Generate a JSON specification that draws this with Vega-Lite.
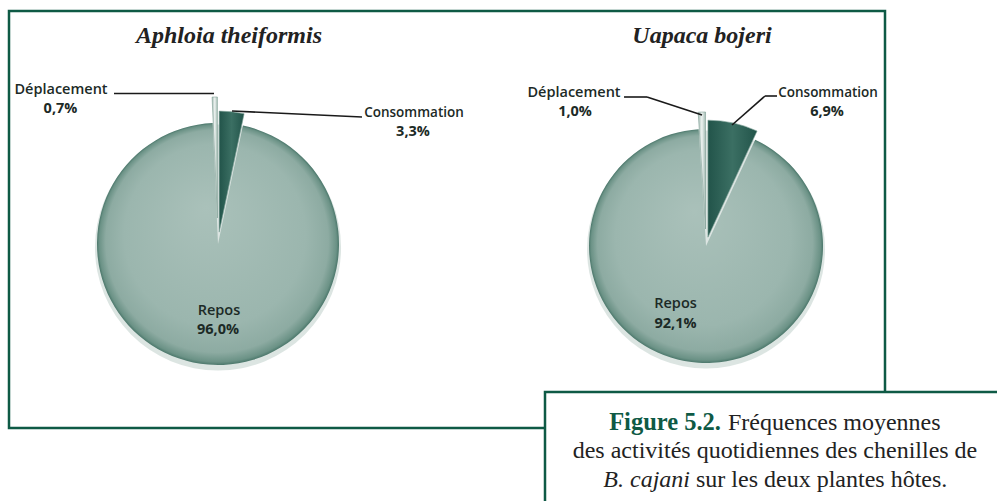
{
  "$schema": "https://vega.github.io/schema/vega-lite/v6.json",
  "width": 876,
  "height": 417,
  "autosize": {"type": "none"},
  "padding": {"left": 9, "top": 11, "right": 112, "bottom": 73},
  "background": "white",
  "config": {
    "view": {"stroke": "#0e5a45", "strokeWidth": 2.5},
    "locale": {"number": {"decimal": ",", "thousands": " ", "grouping": [3], "currency": ["", " €"]}}
  },
  "data": {"values": [
    {"plant": "Aphloia theiformis", "activity": "Consommation", "pct": 0.033},
    {"plant": "Aphloia theiformis", "activity": "Repos", "pct": 0.960},
    {"plant": "Aphloia theiformis", "activity": "Déplacement", "pct": 0.007},
    {"plant": "Uapaca bojeri", "activity": "Consommation", "pct": 0.069},
    {"plant": "Uapaca bojeri", "activity": "Repos", "pct": 0.921},
    {"plant": "Uapaca bojeri", "activity": "Déplacement", "pct": 0.010}
  ]},
  "transform": [{"stack": "pct", "groupby": ["plant"], "as": ["start", "end"]}],
  "encoding": {
    "x": {"field": "plant", "type": "nominal", "axis": null,
          "scale": {"type": "point", "domain": ["Aphloia theiformis", "Uapaca bojeri"], "padding": 0.3975, "align": 0.5387}}
  },
  "layer": [
    {"transform": [{"filter": "datum.plant=='Aphloia theiformis' && datum.activity=='Repos'"}],
     "mark": {"type": "arc", "radius": 123, "theta": 0, "theta2": 6.2832, "yOffset": 28, "color": "#d3dfdb", "opacity": 0.8}},
    {"transform": [{"filter": "datum.plant=='Uapaca bojeri' && datum.activity=='Repos'"}],
     "mark": {"type": "arc", "radius": 119, "theta": 0, "theta2": 6.2832, "yOffset": 30, "color": "#d3dfdb", "opacity": 0.8}},

    {"transform": [{"filter": "datum.plant=='Aphloia theiformis' && datum.activity=='Repos'"}],
     "mark": {"type": "arc", "radius": 121, "yOffset": 24.5,
              "color": {"gradient": "radial", "x1": 0.45, "y1": 0.35, "x2": 0.5, "y2": 0.5, "r1": 0, "r2": 0.5,
                        "stops": [{"offset": 0, "color": "#aac1ba"}, {"offset": 0.75, "color": "#9bb6ae"}, {"offset": 0.92, "color": "#8daba2"}, {"offset": 0.98, "color": "#6b9286"}, {"offset": 1, "color": "#4b776b"}]}},
     "encoding": {"theta": {"field": "start", "type": "quantitative", "scale": {"domain": [0, 1]}}, "theta2": {"field": "end"}}},
    {"transform": [{"filter": "datum.plant=='Aphloia theiformis' && datum.activity=='Consommation'"}],
     "mark": {"type": "arc", "radius": 121, "yOffset": 12.6, "xOffset": 1.2, "stroke": "#7fa398", "strokeWidth": 0.6,
              "color": {"gradient": "linear", "x1": 0, "y1": 0, "x2": 1, "y2": 0,
                        "stops": [{"offset": 0, "color": "#22544a"}, {"offset": 0.5, "color": "#3b6f63"}, {"offset": 1, "color": "#22544a"}]}},
     "encoding": {"theta": {"field": "start", "type": "quantitative"}, "theta2": {"field": "end"}}},
    {"transform": [{"filter": "datum.plant=='Aphloia theiformis' && datum.activity=='Déplacement'"}],
     "mark": {"type": "arc", "radius": 121, "yOffset": -1.5, "xOffset": -0.6, "stroke": "#7e9e94", "strokeWidth": 0.6,
              "color": {"gradient": "linear", "x1": 0, "y1": 0, "x2": 1, "y2": 0,
                        "stops": [{"offset": 0, "color": "#a3bbb3"}, {"offset": 0.5, "color": "#eef3f1"}, {"offset": 1, "color": "#a3bbb3"}]}},
     "encoding": {"theta": {"field": "start", "type": "quantitative"}, "theta2": {"field": "end"}}},

    {"transform": [{"filter": "datum.plant=='Uapaca bojeri' && datum.activity=='Repos'"}],
     "mark": {"type": "arc", "radius": 117, "yOffset": 26.5,
              "color": {"gradient": "radial", "x1": 0.45, "y1": 0.35, "x2": 0.5, "y2": 0.5, "r1": 0, "r2": 0.5,
                        "stops": [{"offset": 0, "color": "#aac1ba"}, {"offset": 0.75, "color": "#9bb6ae"}, {"offset": 0.92, "color": "#8daba2"}, {"offset": 0.98, "color": "#6b9286"}, {"offset": 1, "color": "#4b776b"}]}},
     "encoding": {"theta": {"field": "start", "type": "quantitative"}, "theta2": {"field": "end"}}},
    {"transform": [{"filter": "datum.plant=='Uapaca bojeri' && datum.activity=='Consommation'"}],
     "mark": {"type": "arc", "radius": 117, "yOffset": 17.7, "xOffset": 1.9, "stroke": "#7fa398", "strokeWidth": 0.6,
              "color": {"gradient": "linear", "x1": 0, "y1": 0, "x2": 1, "y2": 0,
                        "stops": [{"offset": 0, "color": "#22544a"}, {"offset": 0.5, "color": "#3b6f63"}, {"offset": 1, "color": "#22544a"}]}},
     "encoding": {"theta": {"field": "start", "type": "quantitative"}, "theta2": {"field": "end"}}},
    {"transform": [{"filter": "datum.plant=='Uapaca bojeri' && datum.activity=='Déplacement'"}],
     "mark": {"type": "arc", "radius": 117, "yOffset": 9.5, "xOffset": -0.5, "stroke": "#7e9e94", "strokeWidth": 0.6,
              "color": {"gradient": "linear", "x1": 0, "y1": 0, "x2": 1, "y2": 0,
                        "stops": [{"offset": 0, "color": "#a3bbb3"}, {"offset": 0.5, "color": "#eef3f1"}, {"offset": 1, "color": "#a3bbb3"}]}},
     "encoding": {"theta": {"field": "start", "type": "quantitative"}, "theta2": {"field": "end"}}},

    {"transform": [{"filter": "datum.plant=='Aphloia theiformis' && datum.activity=='Déplacement'"}],
     "mark": {"type": "rule", "color": "#1a1a1a", "strokeWidth": 1.6, "xOffset": -104, "x2Offset": -4},
     "encoding": {"x2": {"field": "plant"}, "y": {"value": 82.5}, "y2": {"value": 82.5}}},
    {"transform": [{"filter": "datum.plant=='Aphloia theiformis' && datum.activity=='Consommation'"}],
     "mark": {"type": "rule", "color": "#1a1a1a", "strokeWidth": 1.6, "xOffset": 14, "x2Offset": 144},
     "encoding": {"x2": {"field": "plant"}, "y": {"value": 100}, "y2": {"value": 106}}},
    {"transform": [{"filter": "datum.plant=='Uapaca bojeri' && datum.activity=='Déplacement'"}],
     "mark": {"type": "rule", "color": "#1a1a1a", "strokeWidth": 1.6, "xOffset": -82, "x2Offset": -59},
     "encoding": {"x2": {"field": "plant"}, "y": {"value": 86}, "y2": {"value": 86}}},
    {"transform": [{"filter": "datum.plant=='Uapaca bojeri' && datum.activity=='Déplacement'"}],
     "mark": {"type": "rule", "color": "#1a1a1a", "strokeWidth": 1.6, "xOffset": -59, "x2Offset": -4},
     "encoding": {"x2": {"field": "plant"}, "y": {"value": 86}, "y2": {"value": 104}}},
    {"transform": [{"filter": "datum.plant=='Uapaca bojeri' && datum.activity=='Consommation'"}],
     "mark": {"type": "rule", "color": "#1a1a1a", "strokeWidth": 1.6, "xOffset": 71, "x2Offset": 59},
     "encoding": {"x2": {"field": "plant"}, "y": {"value": 85}, "y2": {"value": 85}}},
    {"transform": [{"filter": "datum.plant=='Uapaca bojeri' && datum.activity=='Consommation'"}],
     "mark": {"type": "rule", "color": "#1a1a1a", "strokeWidth": 1.6, "xOffset": 59, "x2Offset": 26},
     "encoding": {"x2": {"field": "plant"}, "y": {"value": 85}, "y2": {"value": 114}}},

    {"transform": [{"filter": "datum.plant=='Aphloia theiformis' && datum.activity=='Repos'"}],
     "mark": {"type": "text", "font": "Liberation Serif", "fontSize": 24, "fontWeight": "bold", "fontStyle": "italic", "color": "#222222", "baseline": "alphabetic", "dx": 11, "dy": -176.5},
     "encoding": {"text": {"field": "plant"}}},
    {"transform": [{"filter": "datum.plant=='Uapaca bojeri' && datum.activity=='Repos'"}],
     "mark": {"type": "text", "font": "Liberation Serif", "fontSize": 24, "fontWeight": "bold", "fontStyle": "italic", "color": "#222222", "baseline": "alphabetic", "dx": -4, "dy": -176.5},
     "encoding": {"text": {"field": "plant"}}},

    {"transform": [{"filter": "datum.plant=='Aphloia theiformis' && datum.activity=='Déplacement'"}],
     "mark": {"type": "text", "font": "Open Sans", "fontSize": 14.5, "fontWeight": 600, "color": "#1c2a26", "dx": -157, "dy": -129.5},
     "encoding": {"text": {"field": "activity"}}},
    {"transform": [{"filter": "datum.plant=='Aphloia theiformis' && datum.activity=='Déplacement'"}],
     "mark": {"type": "text", "font": "Open Sans", "fontSize": 14.5, "fontWeight": "bold", "color": "#1c2a26", "dx": -157.5, "dy": -111},
     "encoding": {"text": {"field": "pct", "format": ".1%"}}},
    {"transform": [{"filter": "datum.plant=='Aphloia theiformis' && datum.activity=='Consommation'"}],
     "mark": {"type": "text", "font": "Open Sans", "fontSize": 13.5, "fontWeight": 600, "color": "#1c2a26", "dx": 196, "dy": -106.5},
     "encoding": {"text": {"field": "activity"}}},
    {"transform": [{"filter": "datum.plant=='Aphloia theiformis' && datum.activity=='Consommation'"}],
     "mark": {"type": "text", "font": "Open Sans", "fontSize": 14.5, "fontWeight": "bold", "color": "#1c2a26", "dx": 195, "dy": -87.5},
     "encoding": {"text": {"field": "pct", "format": ".1%"}}},
    {"transform": [{"filter": "datum.plant=='Aphloia theiformis' && datum.activity=='Repos'"}],
     "mark": {"type": "text", "font": "Open Sans", "fontSize": 14.5, "fontWeight": 600, "color": "#1c2a26", "dx": 1, "dy": 91.5},
     "encoding": {"text": {"field": "activity"}}},
    {"transform": [{"filter": "datum.plant=='Aphloia theiformis' && datum.activity=='Repos'"}],
     "mark": {"type": "text", "font": "Open Sans", "fontSize": 14.5, "fontWeight": "bold", "color": "#1c2a26", "dx": 0, "dy": 110.5},
     "encoding": {"text": {"field": "pct", "format": ".1%"}}},

    {"transform": [{"filter": "datum.plant=='Uapaca bojeri' && datum.activity=='Déplacement'"}],
     "mark": {"type": "text", "font": "Open Sans", "fontSize": 14.5, "fontWeight": 600, "color": "#1c2a26", "dx": -132, "dy": -126.5},
     "encoding": {"text": {"field": "activity"}}},
    {"transform": [{"filter": "datum.plant=='Uapaca bojeri' && datum.activity=='Déplacement'"}],
     "mark": {"type": "text", "font": "Open Sans", "fontSize": 14.5, "fontWeight": "bold", "color": "#1c2a26", "dx": -131, "dy": -107.5},
     "encoding": {"text": {"field": "pct", "format": ".1%"}}},
    {"transform": [{"filter": "datum.plant=='Uapaca bojeri' && datum.activity=='Consommation'"}],
     "mark": {"type": "text", "font": "Open Sans", "fontSize": 13.5, "fontWeight": 600, "color": "#1c2a26", "dx": 122, "dy": -126.5},
     "encoding": {"text": {"field": "activity"}}},
    {"transform": [{"filter": "datum.plant=='Uapaca bojeri' && datum.activity=='Consommation'"}],
     "mark": {"type": "text", "font": "Open Sans", "fontSize": 14.5, "fontWeight": "bold", "color": "#1c2a26", "dx": 121, "dy": -107.5},
     "encoding": {"text": {"field": "pct", "format": ".1%"}}},
    {"transform": [{"filter": "datum.plant=='Uapaca bojeri' && datum.activity=='Repos'"}],
     "mark": {"type": "text", "font": "Open Sans", "fontSize": 14.5, "fontWeight": 600, "color": "#1c2a26", "dx": -30.5, "dy": 84.5},
     "encoding": {"text": {"field": "activity"}}},
    {"transform": [{"filter": "datum.plant=='Uapaca bojeri' && datum.activity=='Repos'"}],
     "mark": {"type": "text", "font": "Open Sans", "fontSize": 14.5, "fontWeight": "bold", "color": "#1c2a26", "dx": -30.5, "dy": 104.5},
     "encoding": {"text": {"field": "pct", "format": ".1%"}}},

    {"data": {"values": [{}]},
     "mark": {"type": "rect", "fill": "white", "stroke": "#0e5a45", "strokeWidth": 2.5},
     "encoding": {"x": {"value": 536}, "x2": {"value": 995}, "y": {"value": 381}, "y2": {"value": 500}}},
    {"data": {"values": [{}]},
     "mark": {"type": "text", "text": "Figure 5.2.", "font": "Liberation Serif", "fontSize": 24.5, "fontWeight": "bold", "color": "#0e5a45", "align": "right", "baseline": "alphabetic"},
     "encoding": {"x": {"value": 712}, "y": {"value": 419}}},
    {"data": {"values": [{}]},
     "mark": {"type": "text", "text": "Fréquences moyennes", "font": "Liberation Serif", "fontSize": 24, "color": "#222222", "align": "left", "baseline": "alphabetic"},
     "encoding": {"x": {"value": 719}, "y": {"value": 419}}},
    {"data": {"values": [{}]},
     "mark": {"type": "text", "text": "des activités quotidiennes des chenilles de", "font": "Liberation Serif", "fontSize": 24, "color": "#222222", "align": "center", "baseline": "alphabetic"},
     "encoding": {"x": {"value": 766}, "y": {"value": 447}}},
    {"data": {"values": [{}]},
     "mark": {"type": "text", "text": "B. cajani", "font": "Liberation Serif", "fontSize": 24, "fontStyle": "italic", "color": "#222222", "align": "right", "baseline": "alphabetic"},
     "encoding": {"x": {"value": 681}, "y": {"value": 476}}},
    {"data": {"values": [{}]},
     "mark": {"type": "text", "text": "sur les deux plantes hôtes.", "font": "Liberation Serif", "fontSize": 24, "color": "#222222", "align": "left", "baseline": "alphabetic"},
     "encoding": {"x": {"value": 687}, "y": {"value": 476}}}
  ]
}
